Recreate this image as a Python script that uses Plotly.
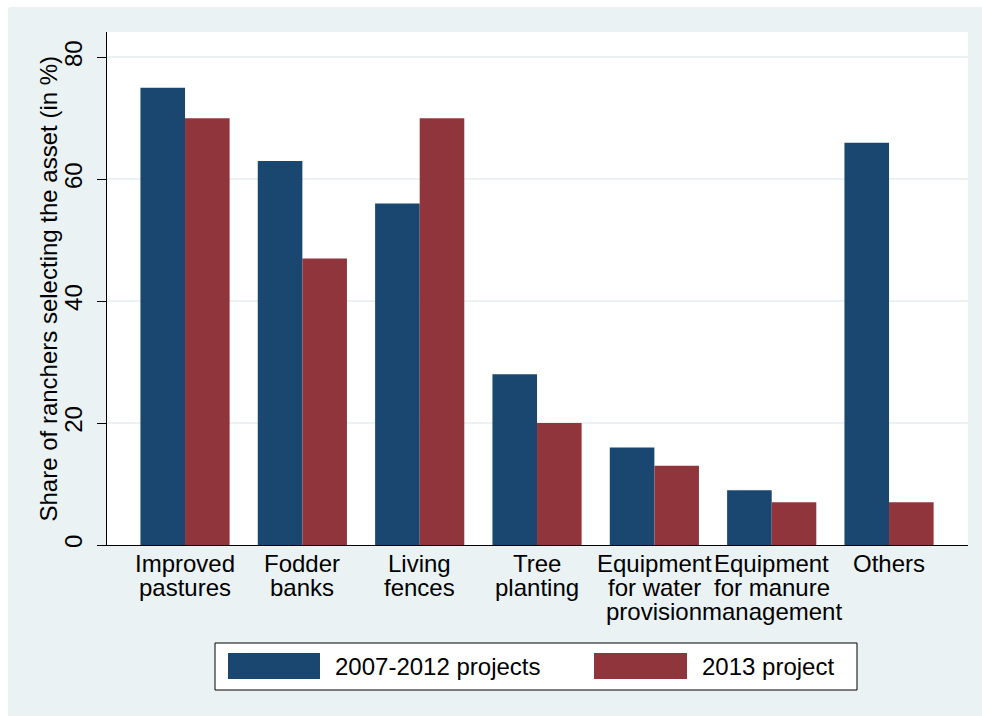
import plotly.graph_objects as go

# Categories (one entry per group) and how each label wraps under the axis
CATEGORIES = [
    "Improved pastures",
    "Fodder banks",
    "Living fences",
    "Tree planting",
    "Equipment for water provision",
    "Equipment for manure management",
    "Others",
]
LABEL_LINES = [
    ["Improved", "pastures"],
    ["Fodder", "banks"],
    ["Living", "fences"],
    ["Tree", "planting"],
    ["Equipment", "for water", "provision"],
    ["Equipment", "for manure", "management"],
    ["Others"],
]

SERIES_NAMES = ["2007-2012 projects", "2013 project"]
PROJECTS_2007_2012 = [75, 63, 56, 28, 16, 9, 66]
PROJECT_2013 = [70, 47, 70, 20, 13, 7, 7]
Y_TICKS = [0, 20, 40, 60, 80]
Y_TITLE = "Share of ranchers selecting the asset (in %)"

NAVY = "#1A476F"
MAROON = "#90353B"
BG = "#EAF2F3"
FONT = "Liberation Sans, Arial, sans-serif"

# page offset (body margin) and plot-area geometry in pixels
OFF = 8
W, H = 982, 716
L, T = 107 - OFF, 32 - OFF
R, B = W - (968 - OFF), H - (545 - OFF)
PW, PH = W - L - R, H - T - B


def px_x(px):
    # screen x -> paper x
    return (px - OFF - L) / PW


def px_y(py):
    # screen y -> paper y
    return (H - B - (py - OFF)) / PH


fig = go.Figure()
for name, vals, col in zip(SERIES_NAMES, [PROJECTS_2007_2012, PROJECT_2013], [NAVY, MAROON]):
    fig.add_trace(go.Bar(
        x=CATEGORIES, y=vals, name=name,
        marker=dict(color=col, line=dict(width=0)),
        showlegend=False,
    ))

# x labels, one annotation per line so the line spacing stays tight
annotations = []
for cat, lines in zip(CATEGORIES, LABEL_LINES):
    for i, line in enumerate(lines):
        annotations.append(dict(
            x=cat, xref="x", y=0, yref="paper",
            yanchor="top", yshift=-3 - 24 * i,
            text=line, showarrow=False,
            font=dict(size=24, color="black", family=FONT),
        ))

# y axis title
annotations.append(dict(
    x=px_x(48), y=0.5, xref="paper", yref="paper",
    xanchor="center", yanchor="middle", textangle=-90,
    text=Y_TITLE, showarrow=False,
    font=dict(size=24, color="black", family=FONT),
))

# legend box built from shapes + text
shapes = [
    dict(type="rect", xref="paper", yref="paper",
         x0=px_x(215), x1=px_x(857), y0=px_y(690), y1=px_y(643),
         fillcolor="white", line=dict(color="black", width=1)),
]
swatch_x = [(228, 320), (594, 687)]
for (x0, x1), name, col in zip(swatch_x, SERIES_NAMES, [NAVY, MAROON]):
    shapes.append(dict(type="rect", xref="paper", yref="paper",
                       x0=px_x(x0), x1=px_x(x1), y0=px_y(679), y1=px_y(653),
                       fillcolor=col, line=dict(width=0)))
    annotations.append(dict(
        x=px_x(x1 + 13), y=px_y(666), xref="paper", yref="paper",
        xanchor="left", yanchor="middle", text=name, showarrow=False,
        font=dict(size=24, color="black", family=FONT),
    ))

fig.update_layout(
    width=W, height=H,
    margin=dict(l=L, r=R, t=T, b=B),
    paper_bgcolor=BG,
    plot_bgcolor="white",
    barmode="group",
    bargap=0.24,
    bargroupgap=0,
    font=dict(family=FONT, size=24, color="black"),
    annotations=annotations,
    shapes=shapes,
)

fig.update_xaxes(
    range=[-0.665, 6.673],
    showticklabels=False,
    ticks="",
    showline=True, linecolor="black", linewidth=1,
    showgrid=False,
)
fig.update_yaxes(
    range=[0, 84.15],
    tickvals=Y_TICKS,
    tickangle=-90,
    tickfont=dict(size=24),
    ticks="outside", ticklen=9, tickcolor="black", tickwidth=1,
    ticklabelstandoff=5,
    showline=True, linecolor="black", linewidth=1,
    gridcolor=BG, gridwidth=2,
    zeroline=False,
)

# page: no scrollbars, white strip only on the left and top edge
page_css = (
    "var h=document.documentElement;"
    "h.style.overflow='hidden';document.body.style.overflow='hidden';"
    "h.style.background='linear-gradient(to right, white 9px, transparent 9px),"
    "linear-gradient(to bottom, white 7px, " + BG + " 7px)';"
)
fig.write_html("out.html", post_script=page_css)
